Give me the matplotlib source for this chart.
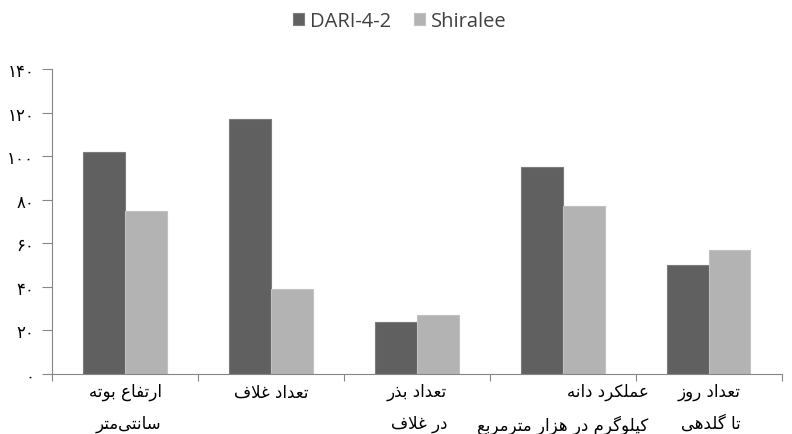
import numpy as np
import matplotlib
matplotlib.use("Agg")
import matplotlib.pyplot as plt

# data
categories = ["ارتفاع بوته\nسانتی\u200cمتر",
              "تعداد غلاف",
              "تعداد بذر\nدر غلاف",
              "عملکرد دانه\nکیلوگرم در هزار مترمربع",
              "تعداد روز\nتا گلدهی"]
series_names = ["DARI-4-2", "Shiralee"]
dari = [102, 117, 24, 95, 50]
shiralee = [75, 39, 27, 77, 57]
yticks = [0, 20, 40, 60, 80, 100, 120, 140]

# matplotlib does not shape arabic script, so do it by hand
# letter: (isolated, final, initial, medial); right-joining letters have no initial/medial
FORMS = {
    'ا': ('\ufe8d', '\ufe8e', None, None),
    'ب': ('\ufe8f', '\ufe90', '\ufe91', '\ufe92'),
    'ت': ('\ufe95', '\ufe96', '\ufe97', '\ufe98'),
    'د': ('\ufea9', '\ufeaa', None, None),
    'ذ': ('\ufeab', '\ufeac', None, None),
    'ر': ('\ufead', '\ufeae', None, None),
    'ز': ('\ufeaf', '\ufeb0', None, None),
    'س': ('\ufeb1', '\ufeb2', '\ufeb3', '\ufeb4'),
    'ع': ('\ufec9', '\ufeca', '\ufecb', '\ufecc'),
    'غ': ('\ufecd', '\ufece', '\ufecf', '\ufed0'),
    'ف': ('\ufed1', '\ufed2', '\ufed3', '\ufed4'),
    'ک': ('\ufb8e', '\ufb8f', '\ufb90', '\ufb91'),
    'گ': ('\ufb92', '\ufb93', '\ufb94', '\ufb95'),
    'ل': ('\ufedd', '\ufede', '\ufedf', '\ufee0'),
    'م': ('\ufee1', '\ufee2', '\ufee3', '\ufee4'),
    'ن': ('\ufee5', '\ufee6', '\ufee7', '\ufee8'),
    'ه': ('\ufee9', '\ufeea', '\ufeeb', '\ufeec'),
    'و': ('\ufeed', '\ufeee', None, None),
    'ی': ('\ufbfc', '\ufbfd', '\ufbfe', '\ufbff'),
}


def dual(c):
    return c in FORMS and FORMS[c][2] is not None


def shape_line(s):
    out = []
    i = 0
    while i < len(s):
        c = s[i]
        if c not in FORMS:
            if c != '\u200c':
                out.append(c)
            i += 1
            continue
        conn_prev = i > 0 and dual(s[i - 1])
        if c == 'ل' and i + 1 < len(s) and s[i + 1] == 'ا':
            out.append('\ufefc' if conn_prev else '\ufefb')
            i += 2
            continue
        conn_next = dual(c) and i + 1 < len(s) and s[i + 1] in FORMS
        iso, fin, ini, med = FORMS[c]
        if conn_prev and conn_next:
            out.append(med)
        elif conn_prev:
            out.append(fin)
        elif conn_next:
            out.append(ini)
        else:
            out.append(iso)
        i += 1
    return ''.join(reversed(out))


def shape(s):
    return '\n'.join(shape_line(l) for l in s.split('\n'))


def fa_digits(n):
    return ''.join(chr(0x06F0 + int(d)) for d in str(n))


plt.rcParams['font.family'] = ['DejaVu Sans']

fig = plt.figure(figsize=(7.92, 4.35), dpi=100)
ax = fig.add_axes([0.066, 0.138, 0.921, 0.701])

x = np.arange(len(categories))
w = 0.286
ax.bar(x - w / 2, dari, width=w, color='#606060', edgecolor='#7c7c7c',
       linewidth=0.8, label=series_names[0])
ax.bar(x + w / 2, shiralee, width=w, color='#b3b3b3', edgecolor='#c2c2c2',
       linewidth=0.8, label=series_names[1])

ax.set_xlim(-0.5, len(categories) - 0.5)
ax.set_ylim(0, 140)
ax.set_yticks(yticks, [fa_digits(v) for v in yticks], fontsize=12)

ax.set_xticks(np.arange(len(categories) + 1) - 0.5, [''] * (len(categories) + 1))
ax.set_xticks(x, [shape(c) for c in categories], minor=True,
              fontsize=12, multialignment='right')
for lbl in ax.get_xticklabels(minor=True):
    lbl.set_linespacing(1.95)
ax.tick_params(axis='x', which='major', length=5, color='#868686')
ax.tick_params(axis='x', which='minor', length=0, pad=6)
ax.tick_params(axis='y', length=7, color='#868686', pad=6)

for side in ['top', 'right']:
    ax.spines[side].set_visible(False)
for side in ['left', 'bottom']:
    ax.spines[side].set_color('#868686')

fig.legend(loc='center', bbox_to_anchor=(0.505, 0.95), ncol=2, frameon=False,
           handlelength=0.55, handleheight=0.55, handletextpad=0.3,
           columnspacing=1.15, prop={'family': 'Open Sans', 'size': 14.5},
           labelcolor='#404040')

fig.savefig('out.png', dpi=100)
